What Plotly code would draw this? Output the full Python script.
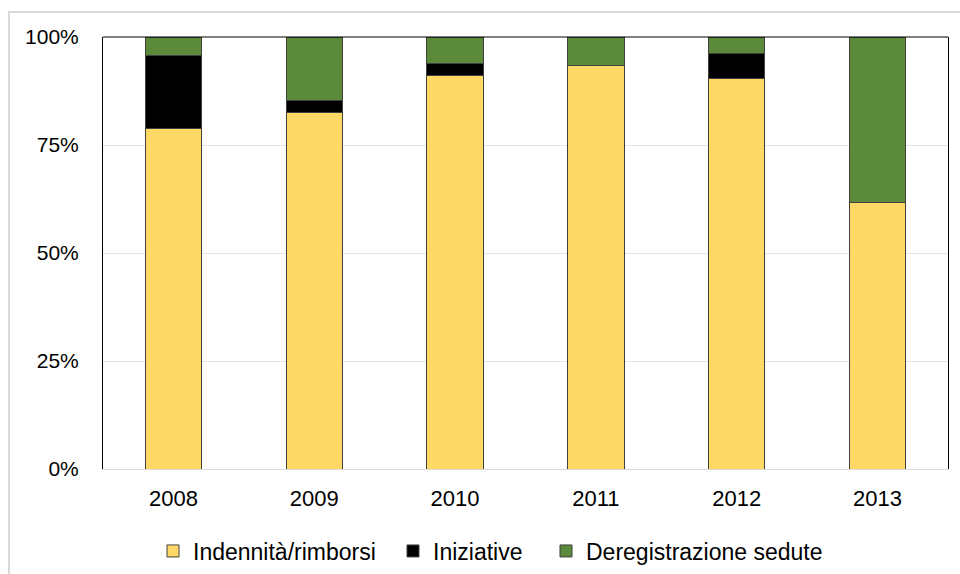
import plotly.graph_objects as go

years = ["2008", "2009", "2010", "2011", "2012", "2013"]
indennita = [78.9, 82.6, 91.0, 93.5, 90.5, 61.6]
iniziative = [16.9, 2.6, 2.8, 0.0, 5.6, 0.0]
deregistrazione = [4.2, 14.8, 6.2, 6.5, 3.9, 38.4]
y_ticks = [0, 25, 50, 75, 100]
y_tick_labels = ["0%", "25%", "50%", "75%", "100%"]

series = [
    ("Indennità/rimborsi", indennita, "#FFD966"),
    ("Iniziative", iniziative, "#000000"),
    ("Deregistrazione sedute", deregistrazione, "#5A8A3A"),
]
legend_ids = ["legend", "legend2", "legend3"]
legend_text_x = [193, 433, 586]

fig = go.Figure()
for (name, vals, col), lid in zip(series, legend_ids):
    fig.add_trace(go.Bar(
        x=years, y=vals, name=name, legend=lid,
        marker=dict(color=col, line=dict(color="#404040", width=1)),
    ))

L, R, T, B = 103, 12, 37, 105
W, H = 960, 574
pw = W - L - R
ph = H - T - B

legend_layout = {}
for lid, tx in zip(legend_ids, legend_text_x):
    legend_layout[lid] = dict(
        orientation="h", xref="container", yref="container",
        x=(tx - 40) / W, xanchor="left",
        y=1 - 551 / H, yanchor="middle",
        font=dict(size=23), bgcolor="rgba(0,0,0,0)")

fig.update_layout(
    width=W, height=H,
    barmode="stack", bargap=0.6,
    margin=dict(l=L, r=R, t=T, b=B, autoexpand=False),
    paper_bgcolor="white", plot_bgcolor="white",
    font=dict(family="Liberation Sans", size=21, color="#000000"),
    showlegend=True,
    xaxis=dict(showline=True, linecolor="#d9d9d9", linewidth=1,
               ticks="", ticklabelstandoff=10, tickfont=dict(size=22),
               automargin=False),
    yaxis=dict(range=[0, 100], tickvals=y_ticks, ticktext=y_tick_labels,
               showgrid=True, gridcolor="#e3e3e3", gridwidth=1,
               showline=True, linecolor="#000000", linewidth=1, mirror=True,
               zeroline=False, ticks="", ticklabelstandoff=19,
               tickfont=dict(size=21), automargin=False),
    shapes=[
        dict(type="line", xref="paper", yref="paper", x0=0, x1=1, y0=1, y1=1,
             line=dict(color="#000000", width=1)),
        dict(type="rect", xref="paper", yref="paper",
             x0=(9 - L) / pw, x1=1.05, y0=-0.35, y1=(H - B - 12) / ph,
             line=dict(color="#d9d9d9", width=2), layer="below"),
    ],
    **legend_layout,
)

fig.write_html("out.html", config={"displayModeBar": False})

with open("out.html", encoding="utf-8") as f:
    html = f.read()
html = html.replace("<body>", '<body style="margin:0;padding:0;overflow:hidden;">', 1)
with open("out.html", "w", encoding="utf-8") as f:
    f.write(html)
